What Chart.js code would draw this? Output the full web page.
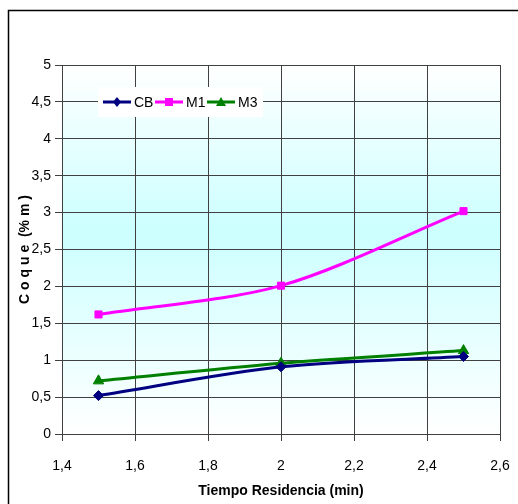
<!DOCTYPE html>
<html>
<head>
<meta charset="utf-8">
<script src="https://cdn.jsdelivr.net/npm/chart.js@4.4.0/dist/chart.umd.min.js"></script>
<style>
  html, body { margin: 0; padding: 0; background: #fff; }
  #wrap { width: 518px; height: 504px; }
</style>
</head>
<body>
<div id="wrap"><canvas id="myChart" width="518" height="504"></canvas></div>
<script>
'use strict';

// data
let tiempo = [1.5, 2, 2.5];
let serieCB = [0.52, 0.91, 1.05];
let serieM1 = [1.62, 2.01, 3.02];
let serieM3 = [0.72, 0.96, 1.13];
let seriesNames = ['CB', 'M1', 'M3'];

const FONT = "'Liberation Sans Narrow', 'Arial Narrow', 'Liberation Sans', Arial, sans-serif";

function commaNum(v) {
  return Number(v.toFixed(1)).toString().replace('.', ',');
}

function toPoints(ys) {
  let pts = [];
  for (let i = 0; i < tiempo.length; i++) {
    pts.push({ x: tiempo[i], y: ys[i] });
  }
  return pts;
}

// gradient background + outer frame
const backPlugin = {
  id: 'backPlugin',
  beforeDraw(chart) {
    const c = chart.ctx;
    const a = chart.chartArea;
    c.save();
    let g = c.createLinearGradient(0, a.top, 0, a.bottom);
    g.addColorStop(0, '#ffffff');
    g.addColorStop(0.45, '#ccffff');
    g.addColorStop(1, '#ffffff');
    c.fillStyle = g;
    c.fillRect(a.left, a.top, a.right - a.left, a.bottom - a.top);
    c.restore();
  },
  afterDraw(chart) {
    const c = chart.ctx;
    c.save();
    c.strokeStyle = '#000';
    c.lineWidth = 1.5;
    c.strokeRect(8.5, 10.5, 520, 510);
    c.restore();
  }
};

// legend drawn inside the plot, on top of the grid
const legendPlugin = {
  id: 'legendPlugin',
  beforeDatasetsDraw(chart) {
    const c = chart.ctx;
    c.save();
    c.fillStyle = '#ffffff';
    c.fillRect(98, 87, 165, 30);
    let x = 103;
    const y = 102;
    chart.data.datasets.forEach(function (ds) {
      c.strokeStyle = ds.borderColor;
      c.lineWidth = 3;
      c.beginPath();
      c.moveTo(x, y);
      c.lineTo(x + 28, y);
      c.stroke();
      c.fillStyle = ds.borderColor;
      let mx = x + 14;
      c.beginPath();
      if (ds.pointStyle === 'rectRot') {
        c.moveTo(mx, y - 5); c.lineTo(mx + 4, y); c.lineTo(mx, y + 5); c.lineTo(mx - 4, y);
      } else if (ds.pointStyle === 'rect') {
        c.rect(mx - 4, y - 4, 8, 8);
      } else {
        c.moveTo(mx, y - 5); c.lineTo(mx + 5, y + 4); c.lineTo(mx - 5, y + 4);
      }
      c.closePath();
      c.fill();
      c.fillStyle = '#000';
      c.font = '14px ' + FONT;
      c.textBaseline = 'middle';
      c.fillText(ds.label, x + 31, y + 1);
      x += 52;
    });
    c.restore();
  }
};

const ctx = document.getElementById('myChart').getContext('2d');

const chartObj = {
  type: 'line',
  data: {
    datasets: [
      {
        label: seriesNames[0],
        data: toPoints(serieCB),
        borderColor: '#000080',
        backgroundColor: '#000080',
        pointStyle: 'rectRot',
        pointRadius: 5
      },
      {
        label: seriesNames[1],
        data: toPoints(serieM1),
        borderColor: '#ff00ff',
        backgroundColor: '#ff00ff',
        pointStyle: 'rect',
        pointRadius: 5
      },
      {
        label: seriesNames[2],
        data: toPoints(serieM3),
        borderColor: '#008000',
        backgroundColor: '#008000',
        pointStyle: 'triangle',
        pointRadius: 6
      }
    ]
  },
  options: {
    responsive: false,
    animation: false,
    layout: { padding: { top: 65, right: 18, left: 0, bottom: 0 } },
    elements: {
      line: { borderWidth: 3, tension: 0.3 }
    },
    plugins: {
      legend: { display: false },
      tooltip: { enabled: false }
    },
    scales: {
      x: {
        type: 'linear',
        min: 1.4,
        max: 2.6,
        ticks: {
          stepSize: 0.2,
          color: '#000',
          font: { family: FONT, size: 14 },
          padding: 17,
          callback: function (v) { return commaNum(v); }
        },
        grid: { color: '#404040', tickLength: 7, drawOnChartArea: true },
        border: { color: '#404040' },
        title: {
          display: true,
          text: 'Tiempo Residencia (min)',
          color: '#000',
          font: { family: FONT, size: 14, weight: 'bold' },
          padding: { top: 0, bottom: 4 }
        },
        afterFit: function (scale) {
          scale.height = 70;
          scale.paddingLeft = 0;
          scale.paddingRight = 0;
        }
      },
      y: {
        min: 0,
        max: 5,
        ticks: {
          stepSize: 0.5,
          color: '#000',
          font: { family: FONT, size: 14 },
          padding: 4,
          callback: function (v) { return commaNum(v); }
        },
        grid: { color: '#404040', tickLength: 7 },
        border: { color: '#404040' },
        title: {
          display: true,
          text: 'C o q u e  (% m )',
          color: '#000',
          font: { family: FONT, size: 14, weight: 'bold' },
          padding: { top: 17, bottom: 0 }
        },
        afterFit: function (scale) {
          scale.width = 62;
          scale.paddingTop = 0;
          scale.paddingBottom = 0;
        }
      }
    }
  },
  plugins: [backPlugin, legendPlugin]
};

const myChart = new Chart(ctx, chartObj); // eslint-disable-line
</script>
</body>
</html>
